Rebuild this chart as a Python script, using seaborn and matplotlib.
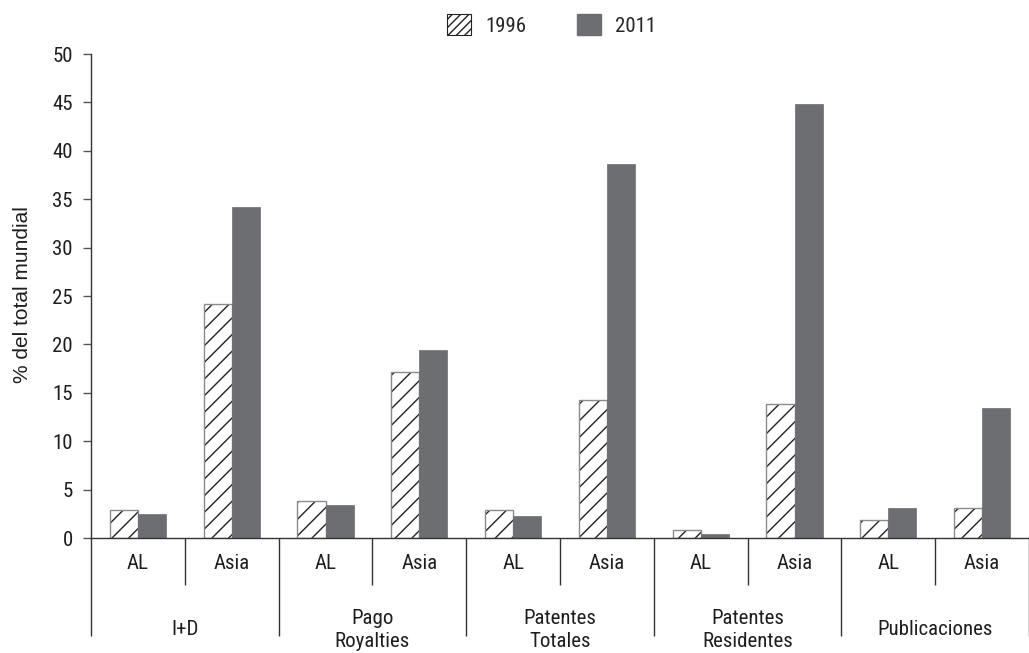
import matplotlib
matplotlib.use("Agg")
import matplotlib.pyplot as plt
import matplotlib.colors as mcolors
from matplotlib.patches import Patch
import seaborn as sns
import pandas as pd

# data
groups = ["I+D", "Pago\nRoyalties", "Patentes\nTotales", "Patentes\nResidentes", "Publicaciones"]
regions = ["AL", "Asia"]
years = ["1996", "2011"]
v1996 = [2.9, 24.2, 3.8, 17.2, 2.9, 14.3, 0.8, 13.8, 1.9, 3.1]
v2011 = [2.5, 34.2, 3.4, 19.4, 2.3, 38.6, 0.4, 44.8, 3.1, 13.4]
yticks = list(range(0, 51, 5))

GREY = "#6d6e71"
LINE = "#333333"
TXT = "#1e1e1e"
FS = 15

sns.set_style("white")
plt.rcParams["font.family"] = ["Roboto Condensed", "DejaVu Sans"]

keys = [f"{g} {r}" for g in groups for r in regions]
rows = []
for i, k in enumerate(keys):
    rows.append((k, years[0], v1996[i]))
    rows.append((k, years[1], v2011[i]))
df = pd.DataFrame(rows, columns=["cat", "year", "value"])

fig = plt.figure(figsize=(10.29, 6.53), dpi=100)
ax = fig.add_axes([91 / 1029, 115 / 653, 938 / 1029, 484 / 653])

sns.barplot(data=df, x="cat", y="value", hue="year", order=keys, hue_order=years,
            palette={"1996": "white", "2011": GREY}, saturation=1, width=0.6,
            gap=0, legend=False, ax=ax)

hatch_col = mcolors.to_rgba("#222222")
for bar in ax.containers[0]:
    bar.set_hatch("//")
    bar.set_edgecolor("#8a8a8a")
    bar.set_linewidth(1.0)
    bar._hatch_color = hatch_col
for bar in ax.containers[1]:
    bar.set_edgecolor(GREY)
    bar.set_linewidth(0.5)

ax.set_xlim(-0.5, 9.415)
ax.set_ylim(0, 50)
ax.set_yticks(yticks)
ax.set_yticklabels([str(t) for t in yticks], fontsize=FS, color=TXT)
ax.set_xlabel("")
ax.set_ylabel("")
fig.text(23 / 1029, 1 - 295 / 653, "% del total mundial", rotation=90, ha="center", va="center",
         fontsize=15, color=TXT, family=["Liberation Sans", "DejaVu Sans"])

# separator ticks below the x axis
ax.set_xticks([-0.5, 1.5, 3.5, 5.5, 7.5, 9.5])
ax.set_xticklabels([])
ax.set_xticks([0.5, 2.5, 4.5, 6.5, 8.5], minor=True)
ax.tick_params(axis="x", which="major", direction="out", length=70.5, width=1, color=LINE, bottom=True)
ax.tick_params(axis="x", which="minor", direction="out", length=34, width=1, color=LINE, bottom=True)
ax.tick_params(axis="y", direction="out", length=6, width=1, color="#555555", left=True, pad=7)

for s in ["top", "right"]:
    ax.spines[s].set_visible(False)
for s in ["left", "bottom"]:
    ax.spines[s].set_color(LINE)
    ax.spines[s].set_linewidth(1)

tr = ax.get_xaxis_transform()
for i, k in enumerate(keys):
    ax.text(i, -0.052, regions[i % 2], transform=tr, ha="center", va="center",
            fontsize=FS, color=TXT)
for j, g in enumerate(groups):
    ax.text(2 * j + 0.5, -0.19, g, transform=tr, ha="center", va="center",
            fontsize=FS, color=TXT, linespacing=1.25)

handles = [Patch(facecolor="white", edgecolor="#222222", hatch="////", linewidth=0.8),
           Patch(facecolor=GREY, edgecolor=GREY)]
fig.legend(handles, years, loc="center", bbox_to_anchor=(0.536, 0.962), ncol=2,
           frameon=False, fontsize=FS, handlelength=1.15, handleheight=1.15,
           handletextpad=0.65, columnspacing=2.45)

fig.savefig("out.png", dpi=100)
